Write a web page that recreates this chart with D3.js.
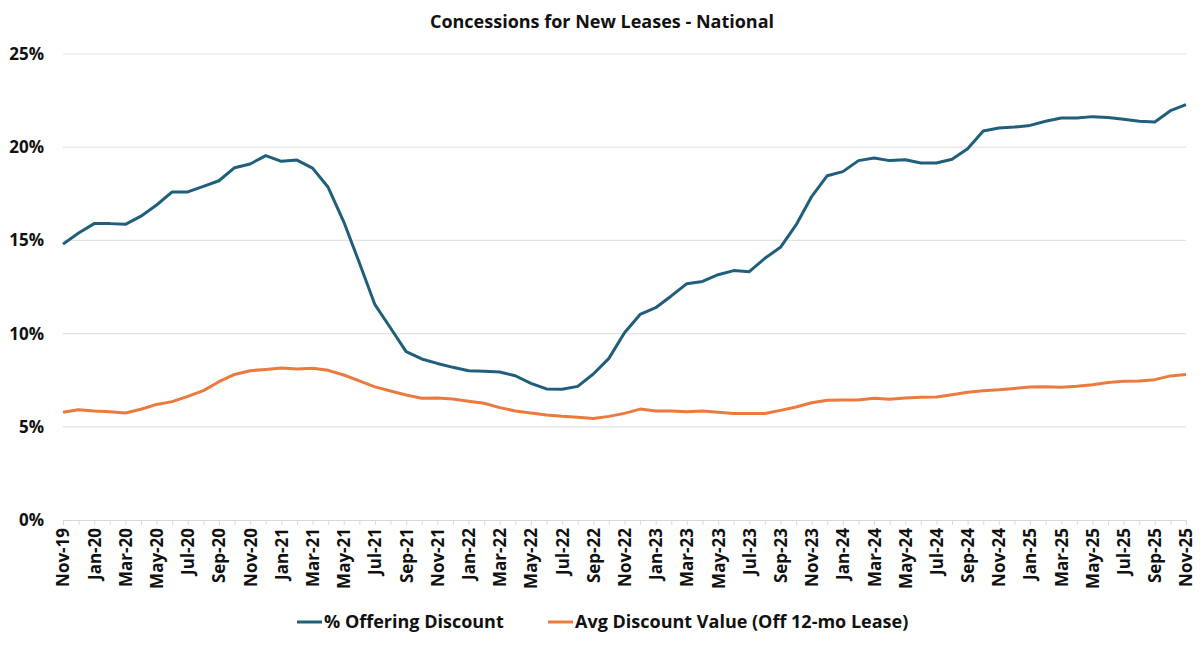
<!DOCTYPE html>
<html>
<head>
<meta charset="utf-8">
<script src="https://cdn.jsdelivr.net/npm/d3@7"></script>
<style>
  body { margin: 0; background: #fff; font-family: "Open Sans", sans-serif; }
  svg text { font-family: "Open Sans", sans-serif; font-weight: 700; fill: #111; }
</style>
</head>
<body>
<script>
// Mois de Nov-19 à Nov-25
const months = ['Jan', 'Feb', 'Mar', 'Apr', 'May', 'Jun', 'Jul', 'Aug', 'Sep', 'Oct', 'Nov', 'Dec'];
const labels = [];
for (let y = 2019; y <= 2025; y++) {
    months.forEach((m, mi) => {
        if ((y === 2019 && mi < 10) || (y === 2025 && mi > 10)) return;
        labels.push(m + '-' + String(y).slice(2));
    });
}

// % Offering Discount
const offering = [
    14.8, 15.4,
    15.9, 15.9, 15.86, 16.3, 16.9, 17.6, 17.6, 17.9, 18.2, 18.9, 19.1, 19.55,
    19.24, 19.31, 18.88, 17.85, 16.0, 13.8, 11.55, 10.3, 9.03, 8.64, 8.4, 8.19,
    8.01, 7.98, 7.94, 7.74, 7.33, 7.03, 7.01, 7.17, 7.83, 8.67, 10.05, 11.03,
    11.39, 12.02, 12.68, 12.8, 13.16, 13.38, 13.32, 14.04, 14.63, 15.83, 17.35, 18.47,
    18.69, 19.28, 19.42, 19.28, 19.33, 19.15, 19.15, 19.35, 19.92, 20.87, 21.03, 21.08,
    21.17, 21.39, 21.57, 21.57, 21.64, 21.59, 21.5, 21.39, 21.35, 21.96, 22.28
];

// Avg Discount Value (Off 12-mo Lease)
const discountValue = [
    5.78, 5.92,
    5.85, 5.81, 5.74, 5.94, 6.2, 6.35, 6.63, 6.94, 7.42, 7.81, 8.01, 8.08,
    8.15, 8.1, 8.14, 8.03, 7.78, 7.46, 7.14, 6.92, 6.71, 6.53, 6.55, 6.49,
    6.37, 6.26, 6.03, 5.85, 5.74, 5.63, 5.56, 5.51, 5.44, 5.56, 5.72, 5.95,
    5.85, 5.85, 5.81, 5.85, 5.78, 5.71, 5.71, 5.71, 5.88, 6.06, 6.29, 6.42,
    6.44, 6.44, 6.53, 6.48, 6.55, 6.58, 6.6, 6.72, 6.85, 6.94, 6.99, 7.06,
    7.14, 7.15, 7.12, 7.17, 7.26, 7.38, 7.44, 7.46, 7.53, 7.73, 7.81
];

const yTicks = [0, 5, 10, 15, 20, 25];

const series = [
    { name: '% Offering Discount', values: offering, color: '#1f5f7b' },
    { name: 'Avg Discount Value (Off 12-mo Lease)', values: discountValue, color: '#ea7a3e' }
];

const W = 1200, H = 646;
const margin = { top: 54, right: 14, bottom: 126, left: 63 };
const width = W - margin.left - margin.right,
    height = H - margin.top - margin.bottom;

const svg = d3.select('body').append('svg')
    .attr('width', W)
    .attr('height', H);

// Titre
svg.append('text')
    .attr('x', 602)
    .attr('y', 28)
    .attr('text-anchor', 'middle')
    .style('font-size', '18px')
    .text('Concessions for New Leases - National');

const g = svg.append('g')
    .attr('transform', `translate(${margin.left}, ${margin.top})`);

const x = d3.scalePoint()
    .domain(labels)
    .range([0, width]);

const y = d3.scaleLinear()
    .domain([0, 25])
    .range([height, 0]);

// Grille horizontale
g.append('g')
    .selectAll('line')
    .data(yTicks.filter(d => d > 0))
    .join('line')
    .attr('x1', 0)
    .attr('x2', width)
    .attr('y1', d => y(d))
    .attr('y2', d => y(d))
    .attr('stroke', '#e3e3e3')
    .attr('stroke-width', 1.2);

// Axe Y (texte seulement)
const yAxis = g.append('g')
    .call(d3.axisLeft(y).tickValues(yTicks).tickSize(0).tickPadding(19).tickFormat(d => d + '%'));
yAxis.select('.domain').remove();
yAxis.selectAll('text')
    .style('font-size', '17px')
    .attr('fill', '#111');

// Axe X
const xAxis = g.append('g')
    .attr('transform', `translate(0, ${height})`)
    .call(d3.axisBottom(x).tickSize(5).tickFormat((d, i) => i % 2 === 0 ? d : ''));
xAxis.select('.domain').attr('stroke', '#d9d9d9').attr('stroke-width', 1.2);
xAxis.selectAll('.tick line').attr('stroke', '#d9d9d9');
xAxis.selectAll('text')
    .style('font-size', '17px')
    .attr('fill', '#111')
    .attr('transform', 'rotate(-90)')
    .attr('text-anchor', 'end')
    .attr('x', -8)
    .attr('y', 0)
    .attr('dy', '0.35em');

// Lignes
const line = d3.line()
    .x((d, i) => x(labels[i]))
    .y(d => y(d));

g.selectAll('.series')
    .data(series)
    .join('path')
    .attr('class', 'series')
    .attr('fill', 'none')
    .attr('stroke', d => d.color)
    .attr('stroke-width', 3)
    .attr('stroke-linejoin', 'round')
    .attr('d', d => line(d.values));

// Légende
const legend = svg.append('g').attr('transform', 'translate(0, 622)');
const legendX = [297, 548];
series.forEach((s, i) => {
    const lg = legend.append('g').attr('transform', `translate(${legendX[i]}, 0)`);
    lg.append('line')
        .attr('x1', 0).attr('x2', 25)
        .attr('y1', 0).attr('y2', 0)
        .attr('stroke', s.color)
        .attr('stroke-width', 3);
    lg.append('text')
        .attr('x', 27)
        .attr('y', 0)
        .attr('dy', '0.35em')
        .style('font-size', '18px')
        .text(s.name);
});
</script>
</body>
</html>
